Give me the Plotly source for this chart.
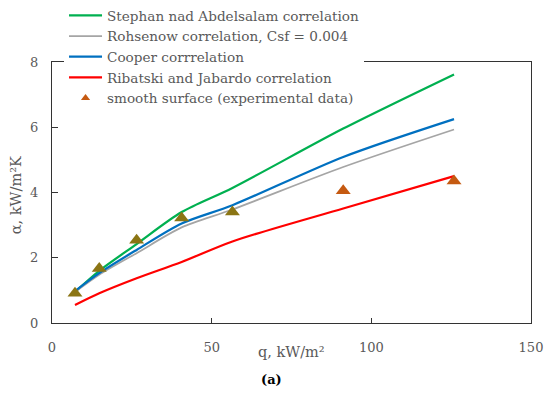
import plotly.graph_objects as go

# heat flux q, kW/m2
q = [7.2, 14.8, 26.5, 40.6, 56.5, 91.2, 125.9]
# heat transfer coefficient alpha, kW/m2K
alpha_stephan = [0.95, 1.60, 2.42, 3.40, 4.14, 5.96, 7.62]
alpha_rohsenow = [0.95, 1.48, 2.14, 2.93, 3.48, 4.78, 5.93]
alpha_cooper = [0.98, 1.53, 2.24, 3.05, 3.61, 5.09, 6.25]
alpha_ribatski = [0.55, 0.91, 1.37, 1.87, 2.50, 3.51, 4.50]
alpha_exp = [0.91, 1.67, 2.54, 3.22, 3.40, 4.05, 4.35]
exp_colors = ["#8B7514", "#8B7514", "#8B7514", "#8B7514", "#8B7514", "#C55A11", "#C55A11"]

names = [
    "Stephan nad Abdelsalam correlation",
    "Rohsenow correlation, Csf = 0.004",
    "Cooper corrrelation",
    "Ribatski and Jabardo correlation",
    "smooth surface (experimental data)",
]
x_ticks = [0, 50, 100, 150]
y_ticks = [0, 2, 4, 6, 8]

FONT = "DejaVu Serif"
GREY = "#595959"

fig = go.Figure()
fig.add_trace(go.Scatter(x=q, y=alpha_stephan, mode="lines", name=names[0],
                         line=dict(color="#00B050", width=2.25, shape="spline", smoothing=0.8)))
fig.add_trace(go.Scatter(x=q, y=alpha_rohsenow, mode="lines", name=names[1],
                         line=dict(color="#A5A5A5", width=1.75, shape="spline", smoothing=0.8)))
fig.add_trace(go.Scatter(x=q, y=alpha_cooper, mode="lines", name=names[2],
                         line=dict(color="#0070C0", width=2.25, shape="spline", smoothing=0.8)))
fig.add_trace(go.Scatter(x=q, y=alpha_ribatski, mode="lines", name=names[3],
                         line=dict(color="#FF0000", width=2.25, shape="spline", smoothing=0.8)))
fig.add_trace(go.Scatter(x=q, y=alpha_exp, mode="markers", name=names[4], showlegend=False,
                         marker=dict(symbol="triangle-up", size=13, color=exp_colors,
                                     line=dict(width=0))))
fig.add_trace(go.Scatter(x=[None], y=[None], mode="markers", name=names[4],
                         marker=dict(symbol="triangle-up", size=8, color="#C55A11",
                                     line=dict(width=0))))

axis_common = dict(showgrid=False, zeroline=False, showline=True, linecolor="#333333",
                   linewidth=1.25, mirror=True, ticks="inside", tickcolor="#333333",
                   tickfont=dict(family=FONT, size=13, color=GREY), automargin=False)
fig.update_xaxes(range=[0, 150], tickvals=x_ticks, ticklen=5, ticklabelstandoff=12,
                 **axis_common)
fig.update_yaxes(range=[0, 8], tickvals=y_ticks, ticklen=6, ticklabelstandoff=10,
                 **axis_common)

fig.update_layout(
    width=550, height=394,
    margin=dict(l=52, r=19, t=62, b=71, autoexpand=False),
    paper_bgcolor="white", plot_bgcolor="white",
    font=dict(family=FONT, color=GREY),
    showlegend=True,
    legend=dict(x=0.1164, y=1.0, xref="container", yref="container",
                xanchor="left", yanchor="top",
                bgcolor="white", borderwidth=0, itemwidth=33,
                font=dict(family=FONT, size=13.6, color=GREY),
                tracegroupgap=0),
    annotations=[
        dict(text="q, kW/m²", x=0.499, y=-0.111, xref="paper", yref="paper",
             showarrow=False, xanchor="center", yanchor="middle",
             font=dict(family=FONT, size=14.5, color=GREY)),
        dict(text="α, kW/m²K", x=-0.075, y=0.49, xref="paper", yref="paper",
             showarrow=False, xanchor="center", yanchor="middle", textangle=-90,
             font=dict(family=FONT, size=14.5, color=GREY)),
        dict(text="<b>(a)</b>", x=0.459, y=-0.218, xref="paper", yref="paper",
             showarrow=False, xanchor="center", yanchor="middle",
             font=dict(family=FONT, size=13, color="black")),
    ],
)

fig.write_html("out.html", config={"displayModeBar": False},
               post_script="document.body.style.margin='0';document.body.style.overflow='hidden';")
